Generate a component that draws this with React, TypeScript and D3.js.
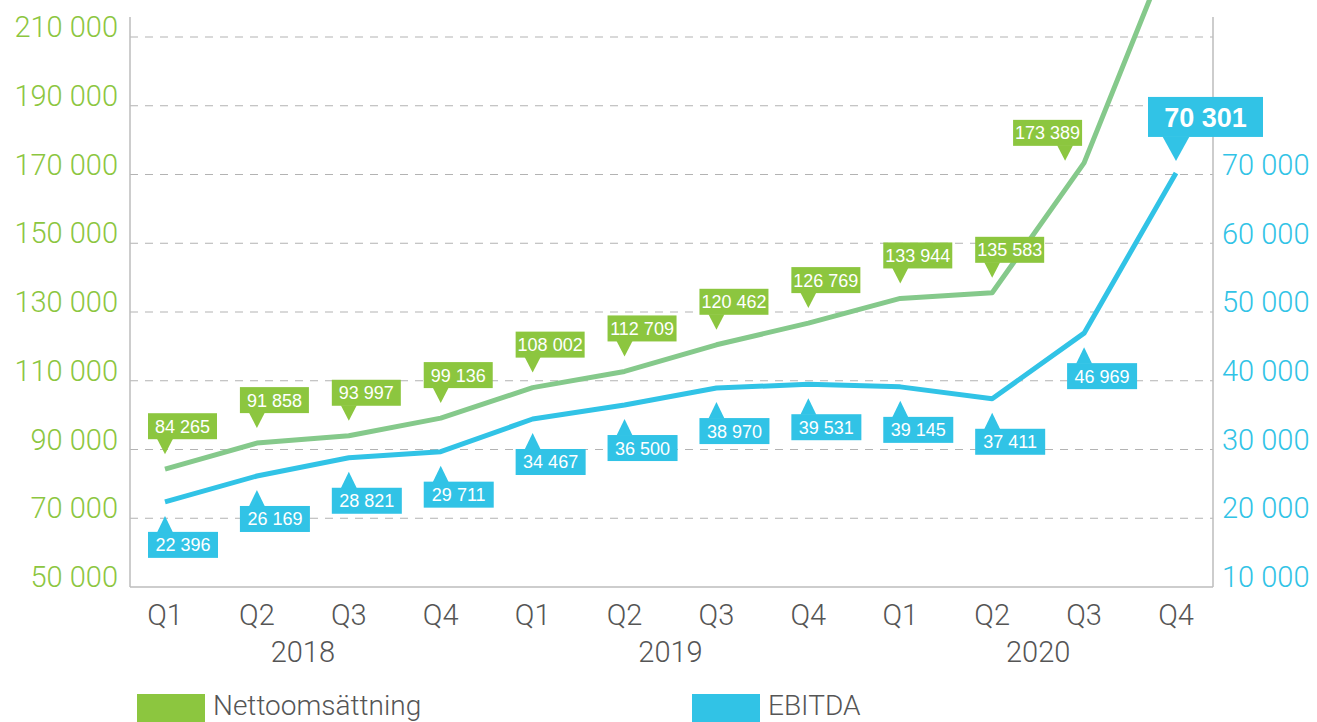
import React from 'react';
import * as d3 from 'd3';

const quarters = ['Q1', 'Q2', 'Q3', 'Q4', 'Q1', 'Q2', 'Q3', 'Q4', 'Q1', 'Q2', 'Q3', 'Q4'];
const years = ['2018', '2019', '2020'];
const netSales = [84265, 91858, 93997, 99136, 108002, 112709, 120462, 126769, 133944, 135583, 173389, 240000];
const ebitda = [22396, 26169, 28821, 29711, 34467, 36500, 38970, 39531, 39145, 37411, 46969, 70301];
const leftTicks = [50000, 70000, 90000, 110000, 130000, 150000, 170000, 190000, 210000];
const rightTicks = [10000, 20000, 30000, 40000, 50000, 60000, 70000];
const seriesNames = ['Nettoomsättning', 'EBITDA'];

const W = 1317;
const H = 722;
const GREEN = '#8cc63f';
const GREEN_LINE = '#85c98b';
const BLUE = '#31c3e6';
const AXIS = '#bdbdbd';
const GRID = '#b3b3b3';
const TEXT = '#555555';
const FONT = '"Liberation Sans", Arial, Helvetica, sans-serif';
const LIGHT_FONT = 'Roboto, "Liberation Sans", Arial, sans-serif';

const fmt = (v: number) => d3.format(',')(v).replace(/,/g, ' ');

export default function App() {
  const plotLeft = 130;
  const plotRight = 1213;
  const plotTop = 17;
  const idx = quarters.map((_, i) => String(i));
  const x = d3.scalePoint<string>().domain(idx).range([165, 1176]);
  const yL = d3.scaleLinear().domain([50000, 210000]).range([587, 37]);
  const yR = d3.scaleLinear().domain([10000, 70000]).range([587, 175]);

  const lineL = d3
    .line<number>()
    .x((_, i) => x(String(i)) as number)
    .y((d) => yL(d));
  const lineR = d3
    .line<number>()
    .x((_, i) => x(String(i)) as number)
    .y((d) => yR(d));

  const yearPos = [
    ((x('1') as number) + (x('2') as number)) / 2,
    ((x('5') as number) + (x('6') as number)) / 2,
    ((x('9') as number) + (x('10') as number)) / 2,
  ];

  const greenLabels = netSales.map((v, i) => {
    if (v > 210000) return null;
    const px = x(String(i)) as number;
    const py = yL(v);
    let tx = px;
    let ty = py - 15;
    let inBox = 17;
    if (i === 10) {
      tx = px - 19;
      ty = py - 2;
      inBox = 52;
    }
    const bw = 69;
    const bh = 26;
    const by = ty - 15 - bh;
    const bx = tx - inBox;
    return (
      <g key={'g' + i}>
        <rect x={bx} y={by} width={bw} height={bh} fill={GREEN} />
        <path d={`M${tx - 8},${ty - 15.5}L${tx + 8},${ty - 15.5}L${tx},${ty}Z`} fill={GREEN} />
        <text x={bx + bw / 2} y={by + bh / 2 + 6.5} textAnchor="middle" fill="#fff" fontSize={18} fontFamily={FONT}>
          {fmt(v)}
        </text>
      </g>
    );
  });

  const blueLabels = ebitda.map((v, i) => {
    const px = x(String(i)) as number;
    const py = yR(v);
    if (i === ebitda.length - 1) {
      const tx = px;
      const ty = py - 12;
      const bw = 115;
      const bh = 40;
      const by = ty - 24 - bh;
      const bx = tx - 28;
      return (
        <g key={'b' + i}>
          <rect x={bx} y={by} width={bw} height={bh} fill={BLUE} />
          <path d={`M${tx - 13.5},${ty - 24.5}L${tx + 13.5},${ty - 24.5}L${tx},${ty}Z`} fill={BLUE} />
          <text x={bx + bw / 2} y={by + bh / 2 + 10} textAnchor="middle" fill="#fff" fontSize={27} fontWeight="bold" fontFamily={FONT}>
            {fmt(v)}
          </text>
        </g>
      );
    }
    const tx = px;
    const ty = py + 14;
    const bw = 70;
    const bh = 26;
    const by = ty + 16;
    const bx = tx - 17;
    return (
      <g key={'b' + i}>
        <rect x={bx} y={by} width={bw} height={bh} fill={BLUE} />
        <path d={`M${tx - 8},${ty + 16.5}L${tx + 8},${ty + 16.5}L${tx},${ty}Z`} fill={BLUE} />
        <text x={bx + bw / 2} y={by + bh / 2 + 6.5} textAnchor="middle" fill="#fff" fontSize={18} fontFamily={FONT}>
          {fmt(v)}
        </text>
      </g>
    );
  });

  return (
    <div style={{ position: 'fixed', left: 0, top: 0, width: W, height: H, background: '#fff' }}>
      <svg width={W} height={H} style={{ display: 'block' }}>
        {/* grid */}
        {leftTicks.slice(1).map((t) => (
          <line key={'gr' + t} x1={plotLeft} x2={plotRight} y1={yL(t)} y2={yL(t)} stroke={GRID} strokeWidth={1.2} strokeDasharray="8,7" />
        ))}
        {/* axes */}
        <line x1={plotLeft} x2={plotLeft} y1={plotTop} y2={yL(50000)} stroke={AXIS} strokeWidth={1.5} />
        <line x1={plotRight} x2={plotRight} y1={plotTop} y2={yL(50000)} stroke={AXIS} strokeWidth={1.5} />
        <line x1={plotLeft} x2={plotRight} y1={yL(50000)} y2={yL(50000)} stroke={AXIS} strokeWidth={1.5} />
        {/* left ticks */}
        {leftTicks.map((t) => (
          <text key={'lt' + t} x={118} y={yL(t)} textAnchor="end" fill={GREEN} fontSize={29} fontWeight={300} fontFamily={LIGHT_FONT}>
            {fmt(t)}
          </text>
        ))}
        {/* right ticks */}
        {rightTicks.map((t) => (
          <text key={'rt' + t} x={1222} y={yR(t)} textAnchor="start" fill={BLUE} fontSize={29} fontWeight={300} fontFamily={LIGHT_FONT}>
            {fmt(t)}
          </text>
        ))}
        {/* x labels */}
        {quarters.map((q, i) => (
          <text key={'q' + i} x={x(String(i)) as number} y={625} textAnchor="middle" fill={TEXT} fontSize={29} fontWeight={300} fontFamily={LIGHT_FONT}>
            {q}
          </text>
        ))}
        {years.map((yy, i) => (
          <text key={'y' + yy} x={yearPos[i]} y={662} textAnchor="middle" fill={TEXT} fontSize={29} fontWeight={300} fontFamily={LIGHT_FONT}>
            {yy}
          </text>
        ))}
        {/* lines */}
        <path d={lineL(netSales) || ''} fill="none" stroke={GREEN_LINE} strokeWidth={5} strokeLinejoin="round" />
        <path d={lineR(ebitda) || ''} fill="none" stroke={BLUE} strokeWidth={5} strokeLinejoin="round" />
        {/* labels */}
        {greenLabels}
        {blueLabels}
        {/* legend */}
        <rect x={137} y={694} width={68} height={30} fill={GREEN} />
        <text x={213} y={715} fill={TEXT} fontSize={28} fontWeight={300} fontFamily={LIGHT_FONT}>
          {seriesNames[0]}
        </text>
        <rect x={692} y={694} width={68} height={30} fill={BLUE} />
        <text x={768} y={715} fill={TEXT} fontSize={28} fontWeight={300} fontFamily={LIGHT_FONT}>
          {seriesNames[1]}
        </text>
      </svg>
    </div>
  );
}
